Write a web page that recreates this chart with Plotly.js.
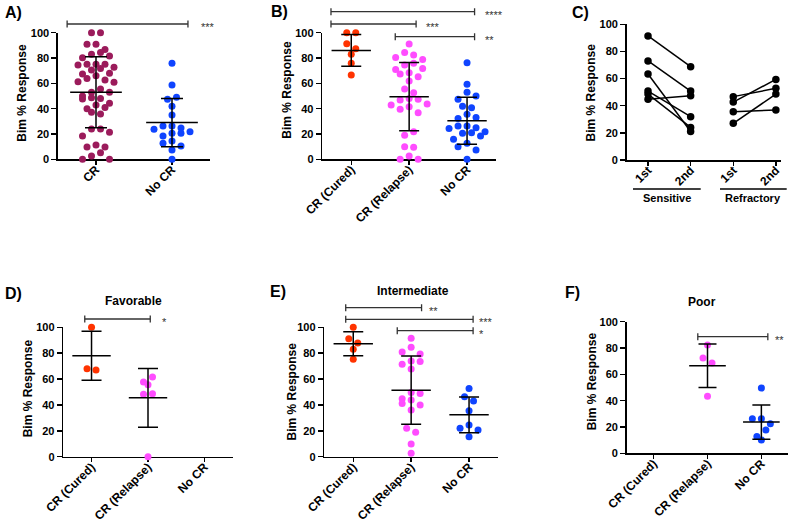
<!DOCTYPE html>
<html><head><meta charset="utf-8">
<script src="https://cdn.plot.ly/plotly-3.0.1.min.js"></script>
<style>html,body{margin:0;padding:0;background:#fff}#chart{width:800px;height:523px}</style>
</head><body><div id="chart"></div>
<script>
// ---------------- data ----------------
const catsA = ['CR', 'No CR'];
const catsOutcome = ['CR (Cured)', 'CR (Relapse)', 'No CR'];
const catsC = ['1st', '2nd', '1st', '2nd'];
const groupsC = ['Sensitive', 'Refractory'];

// Panel A
const A_CR = [100, 100, 90.8, 90.8, 86.8, 84.4, 82.9, 81.5, 80.2, 75, 74.4, 75, 75, 72.8, 71.8, 70.5,
  67.9, 66, 67.3, 62.6, 63.9, 60.8, 61.2, 55.5, 52.9, 52.9, 48.6, 47.6, 48.1, 50, 44.2, 42.9, 41,
  37.1, 40, 35.8, 23.9, 23.9, 21.3, 18.4, 9.7, 9.7, 11.3, 5.2, 2.6, 0, 0];
const A_NoCR = [75.8, 58.7, 47.4, 49, 42, 35, 26.3, 26.3, 23.7, 24.7, 20.5, 20.5, 21.8, 18.4, 12.6, 14.5, 10.5, 7.4, 0];
const A_mean = [53, 29];
const A_sd = [28, 19];

// Panel B
const B_Cured = [100, 100, 91.3, 87.4, 83, 75.8, 66.6];
const B_Relapse = [91, 84.4, 82.3, 80.5, 78.9, 75.8, 74.4, 71.8, 71, 68.4, 67.3, 65.2, 61.8, 55.5, 52.6,
  48.1, 47.4, 46.8, 43.6, 42.9, 41.5, 39.5, 36.8, 21.8, 18.9, 10, 9.5, 2.6, 0, 0];
const B_NoCR = [76.2, 59.2, 52.9, 50, 47.4, 42, 40.7, 35.5, 33.1, 32.3, 26.3, 24.9, 26.3, 24.4, 21.8,
  20.5, 21, 18.4, 15.8, 12.6, 10, 7.4, 0];
const B_mean = [86, 49.5, 30.5];
const B_sd = [12.5, 27, 18.6];

// Panel C (paired 1st -> 2nd)
const C_Sens1st = [91.4, 73, 63.4, 50.8, 48.6, 44.7];
const C_Sens2nd = [68.8, 50.8, 21, 31.9, 24, 47.4];
const C_Refr1st = [46.7, 42.7, 35.6, 27];
const C_Refr2nd = [52.8, 59.4, 36.8, 48.6];

// Panel D (Favorable)
const D_Cured = [100, 67, 68];
const D_Relapse = [61.6, 57.7, 55.6, 48.7, 48.2, 0];
const D_NoCR = [];
const D_mean = [78, 45.5, null];
const D_sd = [19, 22.7, null];

// Panel E (Intermediate)
const E_Cured = [100, 91.2, 87.8, 83, 75.3];
const E_Relapse = [91.5, 84.5, 81, 79.4, 74, 73.5, 71.4, 67.8, 49.7, 48.9, 44.8, 43.8, 41.2, 39.9, 36, 21.9, 18.8, 9.8, 2.6];
const E_NoCR = [52.8, 46.4, 43, 35.6, 24.5, 21.9, 20.6, 15.5];
const E_mean = [87.3, 51.4, 32.4];
const E_sd = [9.2, 26.4, 13.8];

// Panel F (Poor)
const F_Cured = [];
const F_Relapse = [82.2, 72.5, 68.7, 43.3];
const F_NoCR = [49.6, 26.2, 26.2, 22.4, 17.8, 12.7, 10.2];
const F_mean = [null, 66.5, 23.7];
const F_sd = [null, 16.5, 13];

const yTicks = [0, 20, 40, 60, 80, 100];

// ---------------- styling / layout ----------------
const W = 800, H = 523;
const FONT = 'Liberation Sans, Arial, Helvetica, sans-serif';
const MAROON = '#9B1B5B', RED = '#FF3300', MAGENTA = '#FF4CFF', BLUE = '#0F44FF';
const px = x => x / W;
const py = y => 1 - y / H;

const panels = [
  {n: '', xd: [58, 210], y0: 159.3, y100: 32.7, xr: [-0.5, 1.5], cats: catsA,
   groups: [A_CR, A_NoCR], colors: [MAROON, BLUE], mean: A_mean, sd: A_sd, cap: 11,
   label: 'A)', lab: [3, 12.5], ytitle: [21.7, 93],
   brackets: [{x0: -0.38, x1: 1.21, y: 24, t: '***', tx: 1.36}]},
  {n: '2', xd: [322.3, 496], y0: 159.3, y100: 32.7, xr: [-0.5, 2.5], cats: catsOutcome,
   groups: [B_Cured, B_Relapse, B_NoCR], colors: [RED, MAGENTA, BLUE], mean: B_mean, sd: B_sd, cap: 10,
   label: 'B)', lab: [269, 11.5], ytitle: [286.7, 90],
   brackets: [{x0: -0.35, x1: 2.13, y: 11.7, t: '****', tx: 2.27},
              {x0: -0.35, x1: 1.12, y: 24, t: '***', tx: 1.25},
              {x0: 0.76, x1: 2.13, y: 36.7, t: '**', tx: 2.27}]},
  {n: '3', xd: [626.7, 781], y0: 160, y100: 24.3, xr: [-0.5, 3.12], cats: catsC,
   label: 'C)', lab: [570, 12.5], ytitle: [591, 92.5], brackets: []},
  {n: '4', xd: [63.3, 232.7], y0: 456.7, y100: 327.3, xr: [-0.5, 2.5], cats: catsOutcome,
   groups: [D_Cured, D_Relapse, D_NoCR], colors: [RED, MAGENTA, BLUE], mean: D_mean, sd: D_sd, cap: 10,
   label: 'D)', lab: [3, 293.5], ytitle: [28.3, 388], title: ['Favorable', 133, 301],
   brackets: [{x0: -0.12, x1: 1.04, y: 319, t: '*', tx: 1.21}]},
  {n: '5', xd: [324.3, 498], y0: 456.7, y100: 327.3, xr: [-0.5, 2.5], cats: catsOutcome,
   groups: [E_Cured, E_Relapse, E_NoCR], colors: [RED, MAGENTA, BLUE], mean: E_mean, sd: E_sd, cap: 10,
   label: 'E)', lab: [268, 291.5], ytitle: [291.7, 391.7], title: ['Intermediate', 412.7, 291],
   brackets: [{x0: -0.13, x1: 1.18, y: 307.7, t: '**', tx: 1.27},
              {x0: -0.13, x1: 2.07, y: 319.3, t: '***', tx: 2.13},
              {x0: 0.76, x1: 2.07, y: 330.7, t: '*', tx: 2.13}]},
  {n: '6', xd: [626.7, 788.3], y0: 453.3, y100: 321.7, xr: [-0.5, 2.5], cats: catsOutcome,
   groups: [F_Cured, F_Relapse, F_NoCR], colors: [RED, MAGENTA, BLUE], mean: F_mean, sd: F_sd, cap: 9,
   label: 'F)', lab: [563, 292.5], ytitle: [592.3, 381], title: ['Poor', 701.7, 301.7],
   brackets: [{x0: 0.82, x1: 2.12, y: 336.7, t: '**', tx: 2.22}]}
];

// Prism-like scatter: points within one marker-height row are laid side by side
// (at most maxN per row); a new row starts once the value drops rowH px below the row start.
function rowScatter(vals, pxX, pxY, rowH, d, maxN) {
  const off = new Array(vals.length).fill(0);
  const order = vals.map((v, i) => i).sort((a, b) => vals[b] - vals[a]);
  const rows = [];
  let cur = null;
  order.forEach(i => {
    const y = vals[i] * pxY;
    if (!cur || cur.y0 - y > rowH || cur.ids.length >= maxN) { cur = {y0: y, ids: []}; rows.push(cur); }
    cur.ids.push(i);
  });
  rows.forEach((row, ri) => {
    const n = row.ids.length;
    const slots = [];
    for (let k = 0; k < n; k++) slots.push((k - (n - 1) / 2) * d);
    slots.sort((a, b) => Math.abs(a) - Math.abs(b) || (ri % 2 ? a - b : b - a));
    row.ids.forEach((id, k) => { off[id] = slots[k] / pxX; });
  });
  return off;
}

const traces = [];
const layout = {
  width: W, height: H, margin: {l: 0, r: 0, t: 0, b: 0},
  paper_bgcolor: '#fff', plot_bgcolor: 'rgba(0,0,0,0)', showlegend: false,
  font: {family: FONT, color: '#000'},
  annotations: [], shapes: []
};

panels.forEach(p => {
  const xk = 'x' + p.n, yk = 'y' + p.n;
  const pxX = (p.xd[1] - p.xd[0]) / (p.xr[1] - p.xr[0]);
  const pxY = (p.y0 - p.y100) / 100;
  layout['xaxis' + p.n] = {
    domain: [px(p.xd[0]), px(p.xd[1])], range: p.xr, anchor: yk,
    tickvals: p.cats.map((c, i) => i), ticktext: p.cats, tickangle: -45, ticklabelstandoff: -7,
    showline: true, linecolor: '#000', linewidth: 1.6, ticks: 'outside', ticklen: 4, tickwidth: 1.5,
    tickcolor: '#000', showgrid: false, zeroline: false, layer: 'below traces', fixedrange: true,
    tickfont: {family: FONT, size: 12, weight: 'bold', color: '#000'}
  };
  layout['yaxis' + p.n] = {
    domain: [py(p.y0), py(p.y100)], range: [0, 100], anchor: xk, tickvals: yTicks,
    showline: true, linecolor: '#000', linewidth: 1.6, ticks: 'outside', ticklen: 5, tickwidth: 1.5,
    tickcolor: '#000', showgrid: false, zeroline: false, layer: 'below traces', fixedrange: true,
    tickfont: {family: FONT, size: 11, weight: 'bold', color: '#000'}
  };

  if (p.groups) {
    p.groups.forEach((vals, gi) => {
      if (!vals.length) return;
      const off = rowScatter(vals, pxX, pxY, 7, 9, 5);
      traces.push({type: 'scatter', mode: 'markers', xaxis: xk, yaxis: yk, cliponaxis: false,
        x: vals.map((v, i) => gi + off[i]), y: vals, hoverinfo: 'skip',
        marker: {color: p.colors[gi], size: 7, line: {width: 0}}});
    });
    p.groups.forEach((vals, gi) => {
      if (p.mean[gi] == null) return;
      traces.push({type: 'scatter', mode: 'lines', xaxis: xk, yaxis: yk, hoverinfo: 'skip',
        x: [gi - 0.34, gi + 0.34], y: [p.mean[gi], p.mean[gi]], line: {color: '#000', width: 1.5}});
      traces.push({type: 'scatter', mode: 'markers', xaxis: xk, yaxis: yk, hoverinfo: 'skip',
        x: [gi], y: [p.mean[gi]], marker: {opacity: 0, size: 1},
        error_y: {type: 'data', array: [p.sd[gi]], color: '#000', thickness: 1.5, width: p.cap}});
    });
  } else {
    // panel C paired lines
    C_Sens1st.forEach((v, i) => traces.push({type: 'scatter', mode: 'lines+markers', xaxis: xk, yaxis: yk,
      cliponaxis: false, x: [0, 1], y: [v, C_Sens2nd[i]], hoverinfo: 'skip',
      line: {color: '#000', width: 1.5}, marker: {color: '#000', size: 7.5}}));
    C_Refr1st.forEach((v, i) => traces.push({type: 'scatter', mode: 'lines+markers', xaxis: xk, yaxis: yk,
      cliponaxis: false, x: [2, 3], y: [v, C_Refr2nd[i]], hoverinfo: 'skip',
      line: {color: '#000', width: 1.5}, marker: {color: '#000', size: 7.5}}));
    // group labels
    [[633, 700.7, 667], [720, 786.7, 753]].forEach((g, gi) => {
      layout.shapes.push({type: 'line', xref: 'paper', yref: 'paper', x0: px(g[0]), x1: px(g[1]),
        y0: py(189), y1: py(189), line: {color: '#000', width: 1.3}});
      layout.annotations.push({xref: 'paper', yref: 'paper', x: px(g[2]), y: py(198), text: groupsC[gi],
        showarrow: false, xanchor: 'center', yanchor: 'middle',
        font: {family: FONT, size: 11, weight: 'bold', color: '#000'}});
    });
  }

  // panel letter
  layout.annotations.push({xref: 'paper', yref: 'paper', x: px(p.lab[0]), y: py(p.lab[1]), text: p.label,
    showarrow: false, xanchor: 'left', yanchor: 'middle',
    font: {family: FONT, size: 16, weight: 'bold', color: '#000'}});
  // y axis title
  layout.annotations.push({xref: 'paper', yref: 'paper', x: px(p.ytitle[0]), y: py(p.ytitle[1]),
    text: 'Bim % Response', textangle: -90, showarrow: false, xanchor: 'center', yanchor: 'middle',
    font: {family: FONT, size: 12, weight: 'bold', color: '#000'}});
  // panel title
  if (p.title) {
    layout.annotations.push({xref: 'paper', yref: 'paper', x: px(p.title[1]), y: py(p.title[2]),
      text: p.title[0], showarrow: false, xanchor: 'center', yanchor: 'middle',
      font: {family: FONT, size: 12, weight: 'bold', color: '#000'}});
  }
  // significance brackets
  p.brackets.forEach(b => {
    const ln = {color: '#333', width: 1.3};
    layout.shapes.push({type: 'line', xref: xk, yref: 'paper', x0: b.x0, x1: b.x1, y0: py(b.y), y1: py(b.y), line: ln});
    layout.shapes.push({type: 'line', xref: xk, yref: 'paper', x0: b.x0, x1: b.x0, y0: py(b.y - 3.5), y1: py(b.y + 3.5), line: ln});
    layout.shapes.push({type: 'line', xref: xk, yref: 'paper', x0: b.x1, x1: b.x1, y0: py(b.y - 3.5), y1: py(b.y + 3.5), line: ln});
    layout.annotations.push({xref: xk, yref: 'paper', x: b.tx, y: py(b.y + 3), text: b.t, showarrow: false,
      xanchor: 'left', yanchor: 'middle', font: {family: FONT, size: 11, color: '#333'}});
  });
});

Plotly.newPlot('chart', traces, layout, {staticPlot: true, displayModeBar: false});
</script></body></html>
